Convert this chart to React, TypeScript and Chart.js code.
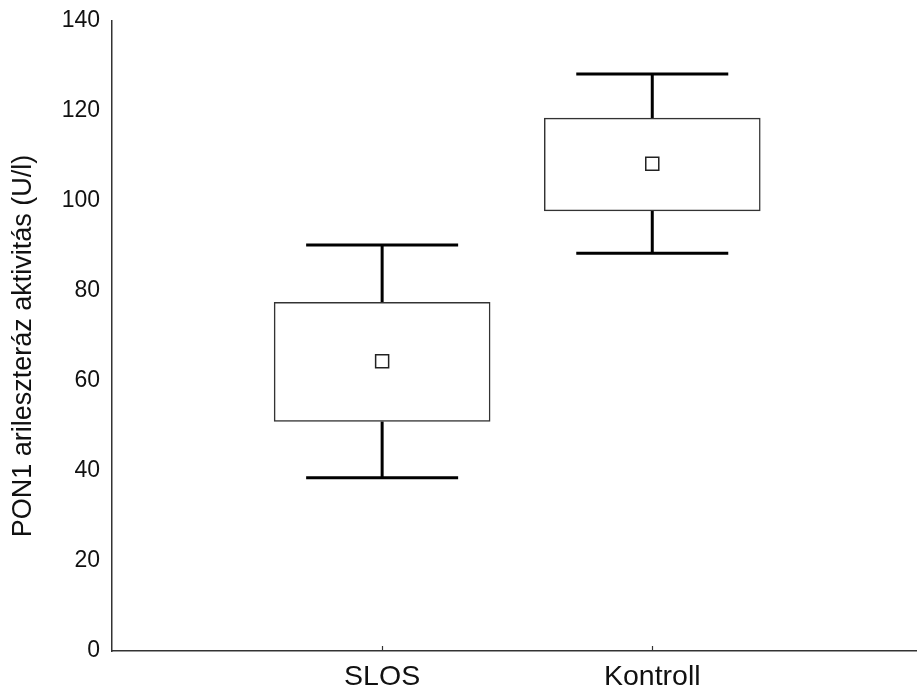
import { useEffect, useRef } from 'react';
import { Chart, registerables } from 'chart.js';

Chart.register(...registerables);

// Groups and their positions on the x axis
const groups = ['SLOS', 'Kontroll'];
const groupPos = [1, 2];

// Summary statistics per group (U/l)
const means = [64.4, 108.3];
const boxLow = [51.0, 97.8];
const boxHigh = [77.5, 118.4];
const whiskerLow = [38.5, 88.4];
const whiskerHigh = [90.2, 128.2];

// Y axis ticks and title
const yTicks = [0, 20, 40, 60, 80, 100, 120, 140];
const yTitle = 'PON1 arileszteráz aktivitás (U/l)';

const AXIS_COLOR = '#333333';
const TEXT_COLOR = '#111111';
const FONT = '"Liberation Sans", Arial, sans-serif';

// Whiskers (stem + cap), the small inward tick marks on the x axis and the y title
const whiskerPlugin = {
  id: 'whiskers',
  beforeDatasetsDraw(chart: any) {
    const { ctx, scales } = chart;
    const xs = scales.x;
    const ys = scales.y;
    ctx.save();
    ctx.strokeStyle = '#000000';
    ctx.lineWidth = 3;
    ctx.lineCap = 'butt';
    groupPos.forEach((p, i) => {
      const cx = xs.getPixelForValue(p);
      const capHalf = 76;
      const yTop = ys.getPixelForValue(whiskerHigh[i]);
      const yBoxTop = ys.getPixelForValue(boxHigh[i]);
      const yBoxBot = ys.getPixelForValue(boxLow[i]);
      const yBot = ys.getPixelForValue(whiskerLow[i]);
      ctx.beginPath();
      ctx.moveTo(cx, yTop);
      ctx.lineTo(cx, yBoxTop);
      ctx.moveTo(cx, yBoxBot);
      ctx.lineTo(cx, yBot);
      ctx.moveTo(cx - capHalf, yTop);
      ctx.lineTo(cx + capHalf, yTop);
      ctx.moveTo(cx - capHalf, yBot);
      ctx.lineTo(cx + capHalf, yBot);
      ctx.stroke();
    });
    ctx.restore();
  },
  afterDraw(chart: any) {
    const { ctx, scales, chartArea } = chart;
    const xs = scales.x;
    ctx.save();
    ctx.strokeStyle = AXIS_COLOR;
    ctx.lineWidth = 1.2;
    groupPos.forEach((p) => {
      const cx = Math.round(xs.getPixelForValue(p)) + 0.5;
      ctx.beginPath();
      ctx.moveTo(cx, chartArea.bottom);
      ctx.lineTo(cx, chartArea.bottom - 5);
      ctx.stroke();
    });
    // rotated y axis title
    const midY = (chartArea.top + chartArea.bottom) / 2 + 10;
    ctx.translate(23.5, midY);
    ctx.rotate(-Math.PI / 2);
    ctx.fillStyle = TEXT_COLOR;
    ctx.font = `27px ${FONT}`;
    ctx.textAlign = 'center';
    ctx.textBaseline = 'middle';
    ctx.fillText(yTitle, 0, 0);
    ctx.restore();
  },
};

export default function App() {
  const canvasRef = useRef<HTMLCanvasElement | null>(null);

  useEffect(() => {
    if (!canvasRef.current) return;
    const chart = new Chart(canvasRef.current, {
      type: 'bar',
      data: {
        datasets: [
          {
            type: 'scatter',
            label: 'Átlag',
            data: groupPos.map((p, i) => ({ x: p, y: means[i] })),
            pointStyle: 'rect',
            pointRadius: 9.2,
            pointBackgroundColor: '#ffffff',
            pointBorderColor: '#222222',
            pointBorderWidth: 1.5,
            showLine: false,
            order: 0,
          } as any,
          {
            type: 'bar',
            label: 'Doboz',
            data: groupPos.map((p, i) => ({ x: p, y: [boxLow[i], boxHigh[i]] })) as any,
            backgroundColor: '#ffffff',
            borderColor: '#333333',
            borderWidth: 1.5,
            borderSkipped: false,
            barThickness: 216,
            order: 1,
          } as any,
        ],
      },
      options: {
        animation: false,
        responsive: true,
        maintainAspectRatio: false,
        layout: { padding: { top: 21, right: 0, left: 0, bottom: 0 }, autoPadding: false },
        plugins: {
          legend: { display: false },
          tooltip: { enabled: false },
        },
        scales: {
          x: {
            type: 'linear',
            min: 0,
            max: 2.98,
            offset: false,
            grid: { display: false, drawTicks: false, offset: false },
            border: { display: true, color: AXIS_COLOR, width: 1.5 },
            afterBuildTicks: (scale: any) => {
              scale.ticks = groupPos.map((v) => ({ value: v }));
            },
            afterFit: (scale: any) => {
              scale.height = 39;
              scale.paddingLeft = 0;
              scale.paddingRight = 0;
            },
            ticks: {
              padding: 9,
              color: TEXT_COLOR,
              font: { family: FONT, size: 28.5 },
              callback: (v: any) => groups[groupPos.indexOf(Number(v))] ?? '',
            },
          },
          y: {
            type: 'linear',
            min: 0,
            max: 140,
            grid: { display: false, drawTicks: false },
            border: { display: true, color: AXIS_COLOR, width: 1.5 },
            afterBuildTicks: (scale: any) => {
              scale.ticks = yTicks.map((v) => ({ value: v }));
            },
            afterFit: (scale: any) => {
              scale.width = 112;
              scale.paddingTop = 0;
              scale.paddingBottom = 0;
            },
            ticks: {
              padding: 12,
              color: TEXT_COLOR,
              font: { family: FONT, size: 23 },
            },
          },
        },
      },
      plugins: [whiskerPlugin],
    });
    return () => chart.destroy();
  }, []);

  return (
    <div style={{ position: 'fixed', left: 0, top: 0, width: 917, height: 690, background: '#ffffff' }}>
      <canvas ref={canvasRef} />
    </div>
  );
}
